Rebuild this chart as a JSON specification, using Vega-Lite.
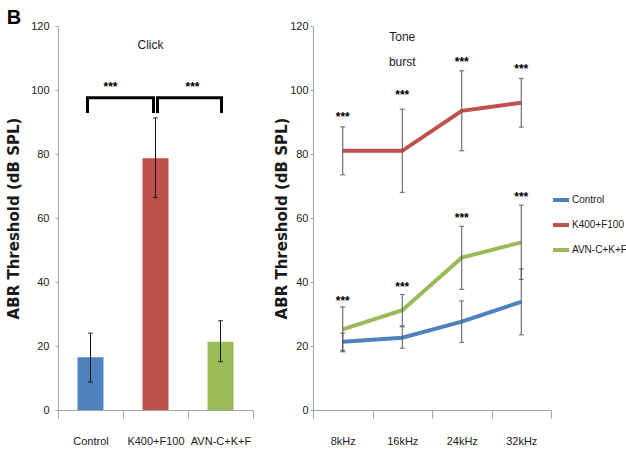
{
  "$schema": "https://vega.github.io/schema/vega-lite/v6.json",
  "background": "white",
  "padding": {"left": 6, "top": 8, "right": 0, "bottom": 0},
  "spacing": 20,
  "config": {
    "view": {"stroke": null},
    "font": "Liberation Sans",
    "axis": {
      "grid": false,
      "domainColor": "#a6a6a6",
      "tickColor": "#a6a6a6",
      "labelFont": "Liberation Sans",
      "labelFontSize": 11,
      "labelColor": "#1a1a1a",
      "titleFont": "DejaVu Sans",
      "titleFontWeight": "bold",
      "titleFontSize": 15,
      "titleColor": "#1a1a1a"
    },
    "title": {"font": "Liberation Sans", "fontSize": 20, "fontWeight": "bold", "anchor": "start", "frame": "bounds", "offset": -8, "color": "#000"}
  },
  "resolve": {"scale": {"color": "independent"}, "legend": {"color": "independent"}},
  "hconcat": [
    {
      "title": "B",
      "width": 195,
      "height": 384,
      "data": {"values": [
        {"group": "Control", "mean": 16.5, "lo": 8.7, "hi": 24.0},
        {"group": "K400+F100", "mean": 78.7, "lo": 66.4, "hi": 91.3},
        {"group": "AVN-C+K+F", "mean": 21.3, "lo": 15.1, "hi": 27.9}
      ]},
      "encoding": {
        "x": {"field": "group", "type": "nominal",
          "scale": {"domain": ["Control", "K400+F100", "AVN-C+K+F"], "paddingInner": 0, "paddingOuter": 0},
          "axis": {"title": null, "labelAngle": 0, "tickBand": "extent", "tickSize": 8, "labelPadding": 17}},
        "y": {"type": "quantitative", "scale": {"domain": [0, 120], "nice": false},
          "axis": {"title": "ABR Threshold (dB SPL)", "values": [0, 20, 40, 60, 80, 100, 120], "tickSize": 3, "labelPadding": 6, "titlePadding": 9}}
      },
      "layer": [
        {"mark": {"type": "bar", "width": 26},
          "encoding": {"y": {"field": "mean", "type": "quantitative"},
            "color": {"field": "group", "type": "nominal", "legend": null,
              "scale": {"domain": ["Control", "K400+F100", "AVN-C+K+F"], "range": ["#4F81BD", "#C0504D", "#9BBB59"]}}}},
        {"mark": {"type": "rule", "color": "#111", "strokeWidth": 1},
          "encoding": {"y": {"field": "lo", "type": "quantitative"}, "y2": {"field": "hi"}}},
        {"mark": {"type": "tick", "orient": "horizontal", "size": 5, "thickness": 1.2, "color": "#111"},
          "encoding": {"y": {"field": "lo", "type": "quantitative"}}},
        {"mark": {"type": "tick", "orient": "horizontal", "size": 5, "thickness": 1.2, "color": "#111"},
          "encoding": {"y": {"field": "hi", "type": "quantitative"}}},
        {"data": {"values": [{"from": "Control", "to": "K400+F100", "top": 97.6, "leg": 92.8}]},
          "layer": [
            {"mark": {"type": "rule", "color": "#000", "strokeWidth": 3, "xOffset": -3, "x2Offset": -2, "strokeCap": "square"},
              "encoding": {"x": {"field": "from", "type": "nominal", "bandPosition": 0.5}, "x2": {"field": "to", "bandPosition": 0.5}, "y": {"field": "top", "type": "quantitative"}}},
            {"mark": {"type": "rule", "color": "#000", "strokeWidth": 3, "xOffset": -3},
              "encoding": {"x": {"field": "from", "type": "nominal", "bandPosition": 0.5}, "y": {"field": "top", "type": "quantitative"}, "y2": {"field": "leg"}}},
            {"mark": {"type": "rule", "color": "#000", "strokeWidth": 3, "xOffset": -2},
              "encoding": {"x": {"field": "to", "type": "nominal", "bandPosition": 0.5}, "y": {"field": "top", "type": "quantitative"}, "y2": {"field": "leg"}}}
          ]},
        {"data": {"values": [{"from": "K400+F100", "to": "AVN-C+K+F", "top": 97.6, "leg": 92.8}]},
          "layer": [
            {"mark": {"type": "rule", "color": "#000", "strokeWidth": 3, "xOffset": 2, "x2Offset": 1, "strokeCap": "square"},
              "encoding": {"x": {"field": "from", "type": "nominal", "bandPosition": 0.5}, "x2": {"field": "to", "bandPosition": 0.5}, "y": {"field": "top", "type": "quantitative"}}},
            {"mark": {"type": "rule", "color": "#000", "strokeWidth": 3, "xOffset": 2},
              "encoding": {"x": {"field": "from", "type": "nominal", "bandPosition": 0.5}, "y": {"field": "top", "type": "quantitative"}, "y2": {"field": "leg"}}},
            {"mark": {"type": "rule", "color": "#000", "strokeWidth": 3, "xOffset": 1},
              "encoding": {"x": {"field": "to", "type": "nominal", "bandPosition": 0.5}, "y": {"field": "top", "type": "quantitative"}, "y2": {"field": "leg"}}}
          ]},
        {"data": {"values": [{"at": "K400+F100", "label": "***", "y": 100.8}]},
          "mark": {"type": "text", "font": "Liberation Sans", "fontWeight": "bold", "fontSize": 12, "xOffset": -45, "baseline": "middle"},
          "encoding": {"x": {"field": "at", "type": "nominal"}, "y": {"field": "y", "type": "quantitative"}, "text": {"field": "label"}}},
        {"data": {"values": [{"at": "K400+F100", "label": "***", "y": 100.8}]},
          "mark": {"type": "text", "font": "Liberation Sans", "fontWeight": "bold", "fontSize": 12, "xOffset": 37, "baseline": "middle"},
          "encoding": {"x": {"field": "at", "type": "nominal"}, "y": {"field": "y", "type": "quantitative"}, "text": {"field": "label"}}},
        {"data": {"values": [{"at": "K400+F100", "label": "Click", "y": 114}]},
          "mark": {"type": "text", "fontSize": 12, "xOffset": -5, "baseline": "middle", "color": "#1a1a1a"},
          "encoding": {"x": {"field": "at", "type": "nominal"}, "y": {"field": "y", "type": "quantitative"}, "text": {"field": "label"}}}
      ]
    },
    {
      "title": "\u00a0",
      "width": 238,
      "height": 384,
      "data": {"values": [
        {"group": "Control", "freq": "8kHz", "mean": 21.3, "lo": 18.6, "hi": 24.0},
        {"group": "Control", "freq": "16kHz", "mean": 22.6, "lo": 19.3, "hi": 26.0},
        {"group": "Control", "freq": "24kHz", "mean": 27.6, "lo": 21.1, "hi": 34.1},
        {"group": "Control", "freq": "32kHz", "mean": 33.8, "lo": 23.5, "hi": 44.1},
        {"group": "K400+F100", "freq": "8kHz", "mean": 81.0, "lo": 73.5, "hi": 88.5},
        {"group": "K400+F100", "freq": "16kHz", "mean": 81.0, "lo": 68.0, "hi": 94.0},
        {"group": "K400+F100", "freq": "24kHz", "mean": 93.5, "lo": 81.0, "hi": 106.0},
        {"group": "K400+F100", "freq": "32kHz", "mean": 96.0, "lo": 88.4, "hi": 103.6},
        {"group": "AVN-C+K+F", "freq": "8kHz", "mean": 25.2, "lo": 18.2, "hi": 32.2},
        {"group": "AVN-C+K+F", "freq": "16kHz", "mean": 31.2, "lo": 26.3, "hi": 36.1},
        {"group": "AVN-C+K+F", "freq": "24kHz", "mean": 47.6, "lo": 37.7, "hi": 57.4},
        {"group": "AVN-C+K+F", "freq": "32kHz", "mean": 52.4, "lo": 40.8, "hi": 64.0}
      ]},
      "encoding": {
        "x": {"field": "freq", "type": "nominal",
          "scale": {"domain": ["8kHz", "16kHz", "24kHz", "32kHz"], "paddingInner": 0, "paddingOuter": 0},
          "axis": {"title": null, "labelAngle": 0, "tickBand": "extent", "tickSize": 8, "labelPadding": 17}},
        "y": {"type": "quantitative", "scale": {"domain": [0, 120], "nice": false},
          "axis": {"title": "ABR Threshold (dB SPL)", "values": [0, 20, 40, 60, 80, 100, 120], "tickSize": 3, "labelPadding": 2, "titlePadding": 0}}
      },
      "layer": [
        {"mark": {"type": "line", "strokeWidth": 4},
          "encoding": {"y": {"field": "mean", "type": "quantitative"},
            "color": {"field": "group", "type": "nominal",
              "scale": {"domain": ["Control", "K400+F100", "AVN-C+K+F"], "range": ["#4F81BD", "#C0504D", "#9BBB59"]},
              "legend": {"title": null, "orient": "none", "legendX": 238, "legendY": 164, "symbolType": "stroke", "symbolSize": 256, "symbolStrokeWidth": 4, "labelFont": "Liberation Sans", "labelFontSize": 10, "labelColor": "#1a1a1a", "labelOffset": 1, "rowPadding": 7, "padding": 0}}}},
        {"mark": {"type": "rule", "color": "#555", "strokeWidth": 1},
          "encoding": {"y": {"field": "lo", "type": "quantitative"}, "y2": {"field": "hi"}}},
        {"mark": {"type": "tick", "orient": "horizontal", "size": 5, "thickness": 1.2, "color": "#444"},
          "encoding": {"y": {"field": "lo", "type": "quantitative"}}},
        {"mark": {"type": "tick", "orient": "horizontal", "size": 5, "thickness": 1.2, "color": "#444"},
          "encoding": {"y": {"field": "hi", "type": "quantitative"}}},
        {"data": {"values": [
          {"freq": "8kHz", "y": 91.5, "label": "***"},
          {"freq": "16kHz", "y": 98.4, "label": "***"},
          {"freq": "24kHz", "y": 108.8, "label": "***"},
          {"freq": "32kHz", "y": 106.5, "label": "***"},
          {"freq": "8kHz", "y": 34.2, "label": "***"},
          {"freq": "16kHz", "y": 38.5, "label": "***"},
          {"freq": "24kHz", "y": 60.0, "label": "***"},
          {"freq": "32kHz", "y": 66.7, "label": "***"}
        ]},
          "mark": {"type": "text", "font": "Liberation Sans", "fontWeight": "bold", "fontSize": 12, "baseline": "middle"},
          "encoding": {"x": {"field": "freq", "type": "nominal"}, "y": {"field": "y", "type": "quantitative"}, "text": {"field": "label"}}},
        {"data": {"values": [
          {"freq": "16kHz", "y": 116.7, "label": "Tone"},
          {"freq": "16kHz", "y": 108.9, "label": "burst"}
        ]},
          "mark": {"type": "text", "fontSize": 12, "baseline": "middle", "color": "#1a1a1a"},
          "encoding": {"x": {"field": "freq", "type": "nominal"}, "y": {"field": "y", "type": "quantitative"}, "text": {"field": "label"}}}
      ]
    }
  ]
}
